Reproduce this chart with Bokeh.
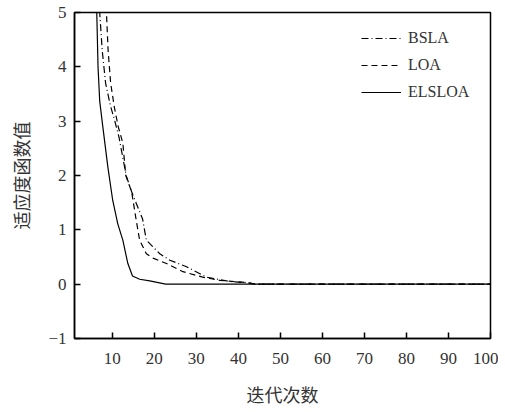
from bokeh.plotting import figure
from bokeh.models import Range1d, FixedTicker, Legend, LegendItem
from bokeh.embed import file_html
from bokeh.resources import INLINE

# Data
elsloa_x = [6.1, 6.3, 6.6, 7.0, 7.75, 8.95, 10.1, 11.3, 12.5, 13.7, 14.8, 16.5, 18.9, 22.7, 100]
elsloa_y = [5.3, 5.0, 4.0, 3.37, 2.89, 2.15, 1.54, 1.11, 0.81, 0.38, 0.15, 0.09, 0.06, 0.0, 0.0]

bsla_x = [6.8, 7.0, 7.6, 8.4, 9.5, 10.6, 11.6, 13.3, 14.6, 17.2, 18.1, 21.3, 23.7, 27.7, 32.4, 38.0, 42.8, 44.0, 100]
bsla_y = [5.3, 5.0, 4.3, 3.7, 3.3, 3.0, 2.7, 2.0, 1.7, 1.2, 0.81, 0.56, 0.44, 0.32, 0.13, 0.05, 0.02, 0.0, 0.0]

loa_x = [8.5, 8.6, 9.0, 9.6, 10.5, 11.4, 12.5, 13.2, 14.6, 15.7, 16.5, 18.1, 19.7, 22.9, 26.8, 31.5, 35.6, 42.0, 44.0, 100]
loa_y = [5.3, 5.0, 4.3, 3.7, 3.25, 2.9, 2.6, 2.0, 1.7, 1.17, 0.81, 0.56, 0.48, 0.38, 0.23, 0.13, 0.07, 0.03, 0.0, 0.0]

x_ticks = [10, 20, 30, 40, 50, 60, 70, 80, 90, 100]
y_ticks = [-1, 0, 1, 2, 3, 4, 5]

x_label = "迭代次数"
y_label = "适应度函数值"

p = figure(width=498, height=409, output_backend="svg", toolbar_location=None,
           x_range=Range1d(1, 100), y_range=Range1d(-1, 5),
           min_border_left=74, min_border_right=8, min_border_top=12, min_border_bottom=70)

p.xgrid.grid_line_color = None
p.ygrid.grid_line_color = None
p.outline_line_color = "black"
p.outline_line_width = 1.5
p.background_fill_color = "white"
p.border_fill_color = "white"

serif = "Liberation Serif"
cjk = "Noto Sans CJK SC"

for ax in (p.xaxis[0], p.yaxis[0]):
    ax.axis_line_color = "black"
    ax.axis_line_width = 1.5
    ax.major_tick_in = 6
    ax.major_tick_out = 0
    ax.major_tick_line_color = "black"
    ax.major_tick_line_width = 1.5
    ax.minor_tick_line_color = None
    ax.major_label_text_font = serif
    ax.major_label_text_font_size = "17px"
    ax.major_label_text_color = "#333333"
    ax.axis_label_text_font = cjk
    ax.axis_label_text_font_size = "18px"
    ax.axis_label_text_font_style = "normal"
    ax.axis_label_text_color = "#333333"

p.xaxis.ticker = FixedTicker(ticks=x_ticks)
p.yaxis.ticker = FixedTicker(ticks=y_ticks)
p.xaxis.major_label_standoff = 14
p.yaxis.major_label_standoff = 8
p.xaxis.axis_label = x_label
p.yaxis.axis_label = y_label
p.xaxis.axis_label_standoff = 14
p.yaxis.axis_label_standoff = 11
p.yaxis.major_label_overrides = {-1: "−1"}

r1 = p.line(bsla_x, bsla_y, line_color="black", line_width=1.2, line_dash="7 3 1 3")
r2 = p.line(loa_x, loa_y, line_color="black", line_width=1.2, line_dash="6 4")
r3 = p.line(elsloa_x, elsloa_y, line_color="black", line_width=1.2)

legend = Legend(items=[LegendItem(label="BSLA", renderers=[r1]),
                       LegendItem(label="LOA", renderers=[r2]),
                       LegendItem(label="ELSLOA", renderers=[r3])],
                location=(287, 236))
legend.border_line_color = None
legend.background_fill_alpha = 0
legend.label_text_font = serif
legend.label_text_font_size = "16px"
legend.label_text_color = "#333333"
legend.glyph_width = 40
legend.glyph_height = 20
legend.label_height = 20
legend.label_standoff = 7
legend.spacing = 7
legend.padding = 2
legend.margin = 0
p.add_layout(legend)

open("out.html", "w").write(file_html(p, INLINE))
